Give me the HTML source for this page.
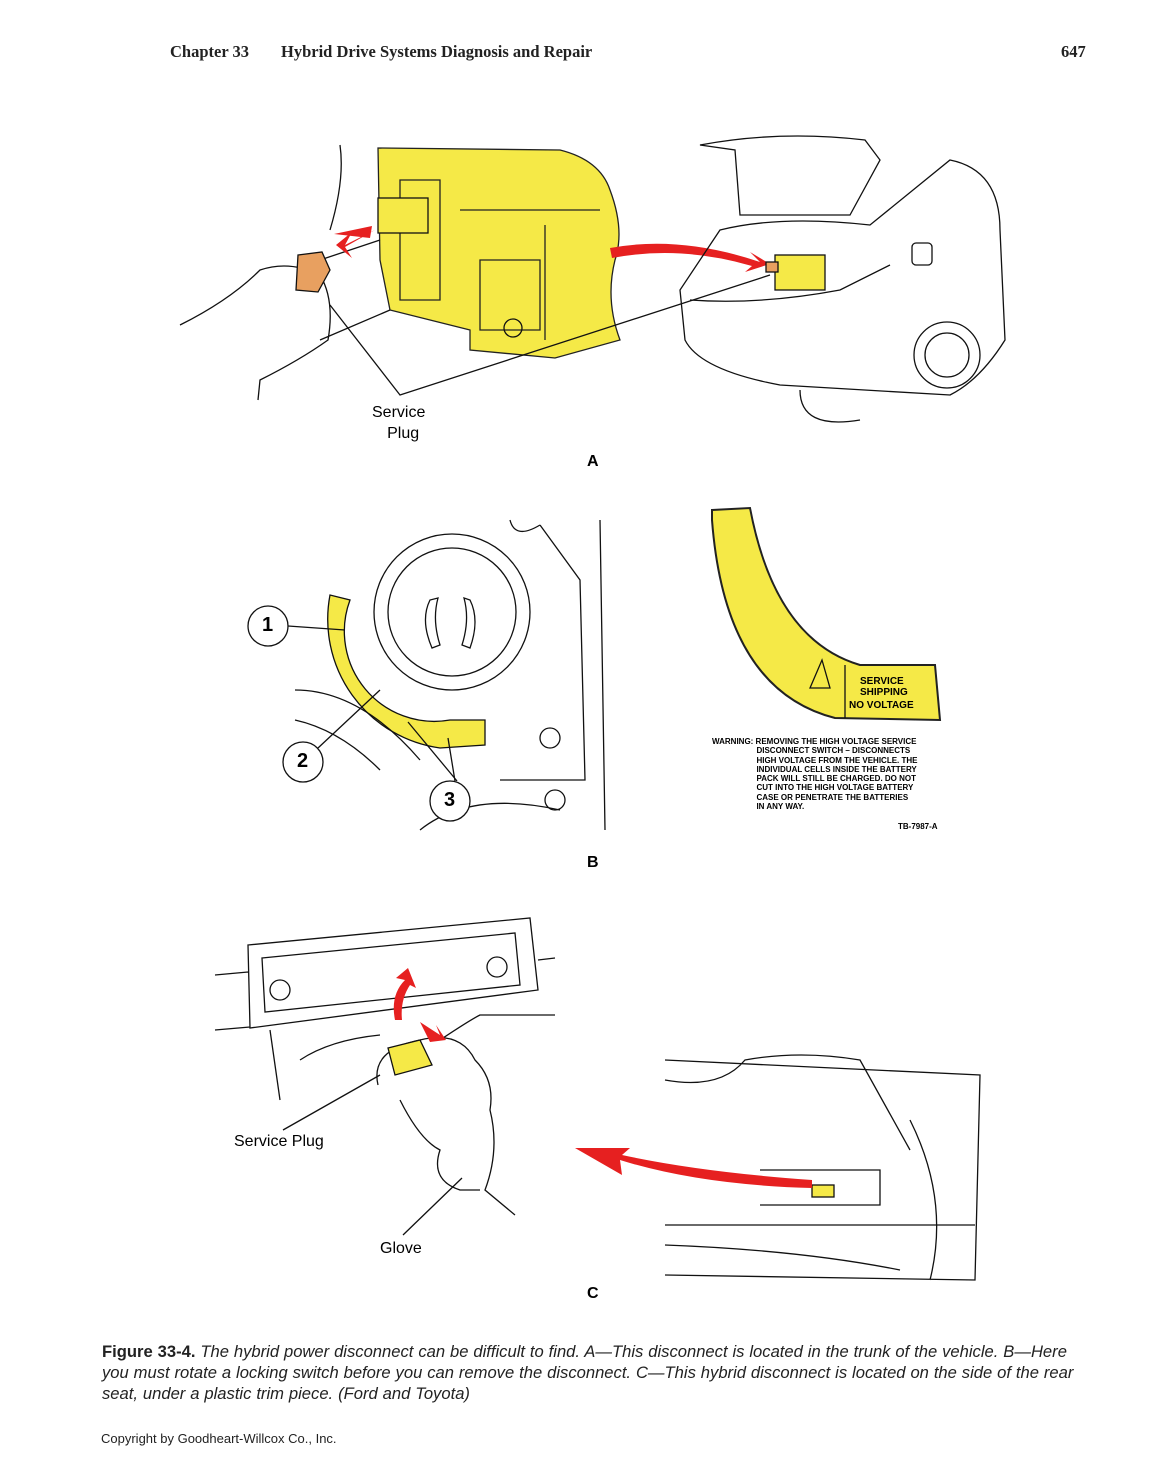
<!DOCTYPE html>
<html><head><meta charset="utf-8"><style>
body{margin:0;background:#fff;}
.pg{position:relative;width:1156px;height:1479px;overflow:hidden;font-family:"Liberation Sans",sans-serif;}
.t{position:absolute;white-space:nowrap;}
.hdr{font-family:"Liberation Serif",serif;font-weight:bold;font-size:16.5px;color:#222;top:42px;}
svg{position:absolute;left:0;top:0;}
</style></head><body><div class="pg">
<div class="t hdr" style="left:170px">Chapter 33</div>
<div class="t hdr" style="left:281px">Hybrid Drive Systems Diagnosis and Repair</div>
<div class="t hdr" style="left:1061px">647</div>

<svg width="1156" height="1479" viewBox="0 0 1156 1479" fill="none" stroke="#111" stroke-width="1.3">
<path d="M378 148 L560 150 Q600 160 610 190 Q625 230 615 260 Q605 300 620 340 L555 358 L470 350 L470 330 L390 310 L380 260 Z" fill="#f5e947" stroke="#222"/>
<path d="M400 180 L440 180 L440 300 L400 300 Z M460 210 L600 210 M545 225 L545 340 M480 260 L540 260 L540 330 L480 330 Z" stroke="#222"/>
<circle cx="513" cy="328" r="9"/>
<rect x="378" y="198" width="50" height="35" fill="#f5e947"/>
<path d="M340 145 Q345 180 330 230 M180 325 Q230 300 260 270 Q290 260 320 275 Q335 300 328 340 Q300 360 260 380 L258 400 M320 340 L390 310 M320 260 L380 240"/>
<path d="M298 255 L322 252 L330 270 L318 292 L296 290 Z" fill="#e8a060"/>
<path d="M375 230 L345 245 L352 232 L336 245 L352 258 L345 247 Z" fill="#e62020" stroke="none"/>
<path d="M334 234 L372 226 L370 238 Z" fill="#e62020" stroke="none"/>
<path d="M610 248 Q680 235 760 262 L750 252 L770 264 L745 272 L752 266 Q680 245 612 258 Z" fill="#e62020" stroke="none"/>
<path d="M330 305 L400 395 L770 275"/>
<path d="M700 145 Q780 130 865 140 L880 160 L850 215 L740 215 L735 150 Z M720 230 Q780 215 870 225 L950 160 Q1000 170 1000 230 L1005 340 Q980 380 950 395 L780 385 Q700 370 685 340 L680 290 Z M690 300 Q760 305 840 290 L890 265 M800 390 Q800 430 860 420"/>
<circle cx="947" cy="355" r="33"/><circle cx="947" cy="355" r="22"/>
<rect x="775" y="255" width="50" height="35" fill="#f5e947"/>
<rect x="766" y="262" width="12" height="10" fill="#e8a060"/>
<rect x="912" y="243" width="20" height="22" rx="4"/>
<path d="M350 600 A90 90 0 0 0 450 720 L485 720 L485 745 L440 748 A130 130 0 0 1 330 595 Z" fill="#f5e947"/>
<circle cx="452" cy="612" r="78"/><circle cx="452" cy="612" r="64"/>
<path d="M430 600 Q420 620 432 648 L440 645 Q432 620 438 598 Z M470 600 Q480 620 470 648 L462 645 Q470 620 464 598 Z" fill="#fff"/>
<path d="M540 525 L580 580 L585 780 L500 780 M420 830 Q470 790 560 810 M295 690 Q360 690 420 760 M295 720 Q340 730 380 770 M510 520 Q515 540 540 525 M600 520 L605 830"/>
<circle cx="550" cy="738" r="10"/><circle cx="555" cy="800" r="10"/>
<circle cx="268" cy="626" r="20" fill="#fff"/><circle cx="303" cy="762" r="20" fill="#fff"/><circle cx="450" cy="801" r="20" fill="#fff"/>
<path d="M288 626 L345 630 M318 748 L380 690 M455 781 L448 738 M457 781 L408 722"/>
<path d="M712 510 L750 508 Q775 640 860 665 L935 665 L940 720 L835 718 Q725 690 712 520 Z" fill="#f5e947" stroke="#222" stroke-width="2"/>
<path d="M845 665 L845 718 M810 688 L822 660 L830 688 Z"/>
<path d="M248 945 L530 918 L538 990 L250 1028 Z M262 958 L515 933 L520 985 L265 1012 Z M215 975 L248 972 M215 1030 L250 1027 M538 960 L555 958 M270 1030 L280 1100 M300 1060 Q330 1040 380 1035 M440 1040 Q470 1020 480 1015 L555 1015 M378 1085 Q370 1050 420 1040 Q460 1030 475 1060 Q495 1080 490 1110 Q500 1150 485 1190 L515 1215 M400 1100 Q420 1140 440 1150 Q430 1180 460 1190 L480 1190"/>
<circle cx="280" cy="990" r="10"/><circle cx="497" cy="967" r="10"/>
<path d="M388 1048 L420 1040 L432 1065 L395 1075 Z" fill="#f5e947"/>
<path d="M395 1020 Q390 995 405 980 L396 978 L408 968 L416 988 L410 985 Q400 1000 402 1020 Z M420 1022 L440 1035 L436 1025 L446 1040 L430 1042 Z" fill="#e62020" stroke="none"/>
<path d="M283 1130 L380 1075 M403 1235 L462 1178"/>
<path d="M665 1060 L980 1075 L975 1280 L665 1275 M665 1080 Q720 1090 745 1060 Q800 1050 860 1060 L910 1150 M760 1170 L880 1170 L880 1205 L760 1205 M665 1225 L975 1225 M665 1245 Q800 1250 900 1270 M910 1120 Q950 1200 930 1280"/>
<rect x="812" y="1185" width="22" height="12" fill="#f5e947"/>
<path d="M812 1188 Q700 1185 620 1160 L622 1175 L575 1148 L630 1148 L622 1155 Q700 1172 812 1180 Z" fill="#e62020" stroke="none"/>
</svg>

<div class="t" style="left:372px;top:402px;font-size:16px;text-align:center;line-height:21px">Service<br>&nbsp;&nbsp;Plug</div>
<div class="t" style="left:587px;top:453px;font-size:16px;font-weight:bold">A</div>
<div class="t" style="left:262px;top:614px;font-size:20px;font-weight:bold">1</div>
<div class="t" style="left:297px;top:750px;font-size:20px;font-weight:bold">2</div>
<div class="t" style="left:444px;top:789px;font-size:20px;font-weight:bold">3</div>
<div class="t" style="left:860px;top:676px;font-size:10px;font-weight:bold;line-height:11px">SERVICE<br>SHIPPING</div>
<div class="t" style="left:849px;top:700px;font-size:10px;font-weight:bold">NO VOLTAGE</div>
<div class="t" style="left:712px;top:737px;font-size:8px;font-weight:bold;line-height:9.3px">WARNING: REMOVING THE HIGH VOLTAGE SERVICE<br>&nbsp;&nbsp;&nbsp;&nbsp;&nbsp;&nbsp;&nbsp;&nbsp;&nbsp;&nbsp;&nbsp;&nbsp;&nbsp;&nbsp;&nbsp;&nbsp;&nbsp;&nbsp;&nbsp;&nbsp;DISCONNECT SWITCH – DISCONNECTS<br>&nbsp;&nbsp;&nbsp;&nbsp;&nbsp;&nbsp;&nbsp;&nbsp;&nbsp;&nbsp;&nbsp;&nbsp;&nbsp;&nbsp;&nbsp;&nbsp;&nbsp;&nbsp;&nbsp;&nbsp;HIGH VOLTAGE FROM THE VEHICLE. THE<br>&nbsp;&nbsp;&nbsp;&nbsp;&nbsp;&nbsp;&nbsp;&nbsp;&nbsp;&nbsp;&nbsp;&nbsp;&nbsp;&nbsp;&nbsp;&nbsp;&nbsp;&nbsp;&nbsp;&nbsp;INDIVIDUAL CELLS INSIDE THE BATTERY<br>&nbsp;&nbsp;&nbsp;&nbsp;&nbsp;&nbsp;&nbsp;&nbsp;&nbsp;&nbsp;&nbsp;&nbsp;&nbsp;&nbsp;&nbsp;&nbsp;&nbsp;&nbsp;&nbsp;&nbsp;PACK WILL STILL BE CHARGED. DO NOT<br>&nbsp;&nbsp;&nbsp;&nbsp;&nbsp;&nbsp;&nbsp;&nbsp;&nbsp;&nbsp;&nbsp;&nbsp;&nbsp;&nbsp;&nbsp;&nbsp;&nbsp;&nbsp;&nbsp;&nbsp;CUT INTO THE HIGH VOLTAGE BATTERY<br>&nbsp;&nbsp;&nbsp;&nbsp;&nbsp;&nbsp;&nbsp;&nbsp;&nbsp;&nbsp;&nbsp;&nbsp;&nbsp;&nbsp;&nbsp;&nbsp;&nbsp;&nbsp;&nbsp;&nbsp;CASE OR PENETRATE THE BATTERIES<br>&nbsp;&nbsp;&nbsp;&nbsp;&nbsp;&nbsp;&nbsp;&nbsp;&nbsp;&nbsp;&nbsp;&nbsp;&nbsp;&nbsp;&nbsp;&nbsp;&nbsp;&nbsp;&nbsp;&nbsp;IN ANY WAY.</div>
<div class="t" style="left:898px;top:822px;font-size:8px;font-weight:bold">TB-7987-A</div>
<div class="t" style="left:587px;top:854px;font-size:16px;font-weight:bold">B</div>
<div class="t" style="left:234px;top:1133px;font-size:16px">Service Plug</div>
<div class="t" style="left:380px;top:1240px;font-size:16px">Glove</div>
<div class="t" style="left:587px;top:1285px;font-size:16px;font-weight:bold">C</div>
<div class="t" style="left:102px;top:1341px;width:990px;white-space:normal;font-size:16.6px;line-height:21px;color:#222;word-spacing:0.3px"><b>Figure 33-4.</b> <i>The hybrid power disconnect can be difficult to find. A—This disconnect is located in the trunk of the vehicle. B—Here<br>you must rotate a locking switch before you can remove the disconnect. C—This hybrid disconnect is located on the side of the rear<br>seat, under a plastic trim piece. (Ford and Toyota)</i></div>
<div class="t" style="left:101px;top:1431px;font-size:13px;color:#222">Copyright by Goodheart-Willcox Co., Inc.</div>
</div></body></html>
